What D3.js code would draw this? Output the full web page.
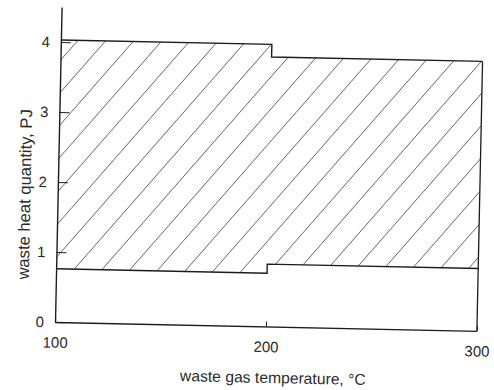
<!DOCTYPE html>
<html>
<head>
<meta charset="utf-8">
<script src="https://cdn.jsdelivr.net/npm/d3@7"></script>
<style>
  body { margin: 0; background: #fff; }
  text { font-family: "Liberation Sans", Arial, sans-serif; fill: #2b2b2b; }
</style>
</head>
<body>
<svg id="chart" width="494" height="390"></svg>
<script>
'use strict'

// waste gas temperature, °C (segment edges)
const temps = [100, 200, 300]
// lower and upper edge of the hatched band, PJ (step after each temperature)
const lowerQ = [0.76, 0.89, 0.89]
const upperQ = [4.03, 3.85, 3.85]

const xTicks = [100, 200, 300]
const yTicks = [0, 1, 2, 3, 4]

const band = temps.map((t, i) => ({ t: t, lo: lowerQ[i], hi: upperQ[i] }))

const svg = d3.select('#chart')

// the scanned figure sits slightly tilted
const origin = [55, 322]
const g = svg.append('g')
    .attr('transform', 'rotate(1.2,' + origin[0] + ',' + origin[1] + ')')

const x = d3.scaleLinear().domain([100, 300]).range([55, 477])
const y = d3.scaleLinear().domain([0, 4.5]).range([322, 7])

const area = d3.area()
    .curve(d3.curveStepAfter)
    .x(d => x(d.t))
    .y0(d => y(d.lo))
    .y1(d => y(d.hi))

g.append('clipPath')
    .attr('id', 'bandClip')
    .append('path')
    .attr('d', area(band))

// hatching
const slope = 1.19
const step = 27.63
const phase = 1
const hatch = g.append('g').attr('clip-path', 'url(#bandClip)')
hatch.selectAll('line')
    .data(d3.range(-14, 18))
    .enter()
    .append('line')
    .attr('x1', k => origin[0] + phase + k * step)
    .attr('y1', origin[1])
    .attr('x2', k => origin[0] + phase + k * step + 320 / slope)
    .attr('y2', origin[1] - 320)
    .attr('stroke', '#555')
    .attr('stroke-width', 0.9)

const ink = '#1c1c1c'

// upper and lower edges of the band
const edge = key => d3.line()
    .curve(d3.curveStepAfter)
    .x(d => x(d.t))
    .y(d => y(d[key]))

g.append('path')
    .attr('d', edge('hi')(band))
    .attr('fill', 'none')
    .attr('stroke', ink)
    .attr('stroke-width', 1.4)

g.append('path')
    .attr('d', edge('lo')(band))
    .attr('fill', 'none')
    .attr('stroke', ink)
    .attr('stroke-width', 1.4)

// right closing line
g.append('line')
    .attr('x1', x(300)).attr('x2', x(300))
    .attr('y1', y(0)).attr('y2', y(upperQ[upperQ.length - 1]))
    .attr('stroke', ink)
    .attr('stroke-width', 1.3)

// axes
const xAxis = d3.axisBottom(x)
    .tickValues(xTicks)
    .tickSizeInner(-5)
    .tickSizeOuter(0)
    .tickPadding(15)
    .tickFormat(d3.format('d'))

const yAxis = d3.axisLeft(y)
    .tickValues(yTicks)
    .tickSizeInner(-10)
    .tickSizeOuter(0)
    .tickPadding(11)
    .tickFormat(d3.format('d'))

const gx = g.append('g')
    .attr('transform', 'translate(0,' + y(0) + ')')
    .call(xAxis)

const gy = g.append('g')
    .attr('transform', 'translate(' + x(100) + ',0)')
    .call(yAxis)

;[gx, gy].forEach(a => {
    a.select('.domain').attr('stroke', ink).attr('stroke-width', 1.4)
    a.selectAll('.tick line').attr('stroke', ink).attr('stroke-width', 1)
    a.selectAll('.tick text')
        .attr('fill', '#2b2b2b')
        .style('font-size', '15px')
        .style('font-family', '"Liberation Sans", Arial, sans-serif')
})

// axis titles
g.append('text')
    .attr('x', 274)
    .attr('y', 373)
    .attr('dy', '0.35em')
    .attr('text-anchor', 'middle')
    .style('font-size', '15.7px')
    .text('waste gas temperature, \u00b0C')

g.append('text')
    .attr('transform', 'translate(22,195) rotate(-90)')
    .attr('dy', '0.35em')
    .attr('text-anchor', 'middle')
    .style('font-size', '16.6px')
    .text('waste heat quantity, PJ')
</script>
</body>
</html>
